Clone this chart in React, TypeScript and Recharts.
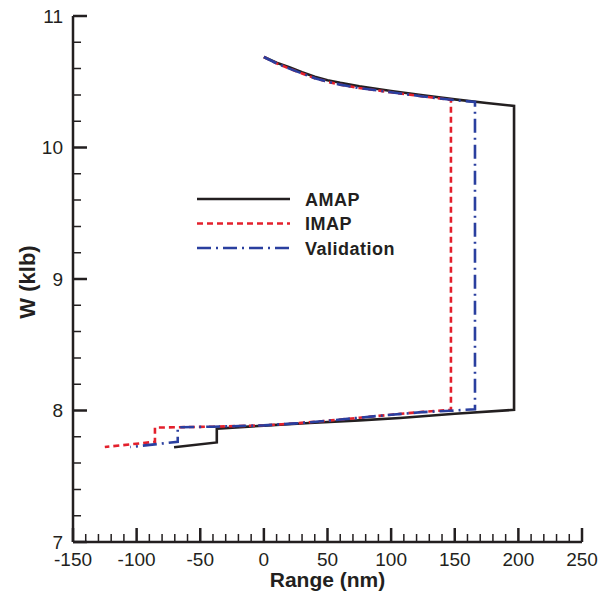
import React from 'react';
import { ComposedChart, Line, XAxis, YAxis, Legend } from 'recharts';

// ---- Data (Range in nm, W in klb) ----
const amapRange = [0, 10, 20, 30, 40, 50, 60, 75, 100, 125, 150, 175, 196.6, 196.6, 150, 107, 75, 36, 0, -37, -37, -70.6];
const amapWeight = [10.688, 10.645, 10.61, 10.572, 10.538, 10.512, 10.492, 10.466, 10.43, 10.397, 10.366, 10.338, 10.316, 8.005, 7.975, 7.943, 7.925, 7.905, 7.885, 7.862, 7.757, 7.72];

const imapRange = [0, 10, 20, 30, 40, 50, 60, 75, 100, 125, 147, 147, 125, 100, 75, 50, 25, 0, -40, -85.6, -85.6, -125];
const imapWeight = [10.688, 10.64, 10.6, 10.563, 10.527, 10.5, 10.478, 10.452, 10.42, 10.388, 10.362, 8.004, 7.99, 7.968, 7.945, 7.922, 7.902, 7.887, 7.877, 7.87, 7.762, 7.722];

const valRange = [0, 10, 20, 30, 40, 50, 60, 75, 100, 125, 150, 165.9, 165.9, 147, 125, 100, 75, 50, 25, 0, -40, -67.7, -67.7, -105];
const valWeight = [10.688, 10.64, 10.6, 10.563, 10.527, 10.5, 10.478, 10.452, 10.42, 10.388, 10.36, 10.346, 8.01, 7.998, 7.988, 7.968, 7.945, 7.922, 7.902, 7.887, 7.877, 7.872, 7.762, 7.722];

const xMajorTicks = [-150, -100, -50, 0, 50, 100, 150, 200, 250];
const xMinorTicks = [-140, -130, -120, -110, -90, -80, -70, -60, -40, -30, -20, -10, 10, 20, 30, 40, 60, 70, 80, 90, 110, 120, 130, 140, 160, 170, 180, 190, 210, 220, 230, 240];
const yMajorTicks = [7, 8, 9, 10, 11];
const yMinorTicks = [7.2, 7.4, 7.6, 7.8, 8.2, 8.4, 8.6, 8.8, 9.2, 9.4, 9.6, 9.8, 10.2, 10.4, 10.6, 10.8];

const seriesNames = ['AMAP', 'IMAP', 'Validation'];

const toPoints = (xs: number[], ys: number[]) => xs.map((x, i) => ({ x, y: ys[i] }));
const amapData = toPoints(amapRange, amapWeight);
const imapData = toPoints(imapRange, imapWeight);
const valData = toPoints(valRange, valWeight);

const X_MIN = -150;
const X_MAX = 250;
const Y_MIN = 7;
const Y_MAX = 11;
// inward tick lengths expressed in axis units (about 14px major, 8px minor)
const X_TICK_MAJOR = 0.107;
const X_TICK_MINOR = 0.061;
const Y_TICK_MAJOR = 11;
const Y_TICK_MINOR = 6.3;

// tick marks as broken two-point segments (null breaks the path)
const xTickSegments = (vals: number[], len: number) =>
  vals.flatMap((v) => [
    { x: v, y: Y_MIN as number | null },
    { x: v, y: (Y_MIN + len) as number | null },
    { x: v, y: null as number | null },
  ]);
const yTickSegments = (vals: number[], len: number) =>
  vals.flatMap((v) => [
    { x: X_MIN, y: v as number | null },
    { x: X_MIN + len, y: v as number | null },
    { x: X_MIN + len, y: null as number | null },
  ]);

const xMajorMarks = xTickSegments(xMajorTicks, X_TICK_MAJOR);
const xMinorMarks = xTickSegments(xMinorTicks, X_TICK_MINOR);
const yMajorMarks = yTickSegments(yMajorTicks, Y_TICK_MAJOR);
const yMinorMarks = yTickSegments(yMinorTicks, Y_TICK_MINOR);

const INK = '#231f20';
const RED = '#e3202c';
const BLUE = '#2a3f9f';
const FONT = '"Liberation Sans", Arial, Helvetica, sans-serif';

const styles = [
  { color: INK, dash: undefined as string | undefined },
  { color: RED, dash: '6 4' },
  { color: BLUE, dash: '14 5 2 5' },
];

const XLabel = (props: any) => {
  const { x, y, payload } = props;
  return (
    <text x={x} y={y + 24} textAnchor="middle" fontSize={19} fill={INK} fontFamily={FONT}>
      {payload.value}
    </text>
  );
};

const YLabel = (props: any) => {
  const { x, y, payload } = props;
  return (
    <text x={x - 10} y={y + 6.5} textAnchor="end" fontSize={19} fill={INK} fontFamily={FONT}>
      {payload.value}
    </text>
  );
};

const XTitle = (props: any) => {
  const vb = props.viewBox;
  return (
    <text x={vb.x + vb.width / 2} y={587} textAnchor="middle" fontSize={21} fontWeight="bold" fill={INK} fontFamily={FONT}>
      Range (nm)
    </text>
  );
};

const YTitle = (props: any) => {
  const vb = props.viewBox;
  const cy = vb.y + vb.height / 2 + 3;
  return (
    <text transform={`translate(35,${cy}) rotate(-90)`} textAnchor="middle" fontSize={22} fontWeight="bold" fill={INK} fontFamily={FONT}>
      W (klb)
    </text>
  );
};

const LegendBox = () => (
  <svg width={260} height={80} style={{ display: 'block' }}>
    {seriesNames.map((name, i) => {
      const cy = 14 + i * 24.5;
      return (
        <g key={name}>
          <line x1={7} x2={100} y1={cy} y2={cy} stroke={styles[i].color} strokeWidth={2.6} strokeDasharray={styles[i].dash} />
          <text x={115} y={cy + 6.5} fontSize={18} fontWeight="bold" letterSpacing={0.5} fill={INK} fontFamily={FONT}>
            {name}
          </text>
        </g>
      );
    })}
  </svg>
);

export default function App() {
  return (
    <div style={{ position: 'absolute', left: 0, top: 0, width: 603, height: 596, background: '#fff' }}>
      <ComposedChart width={603} height={596} margin={{ top: 16, right: 21, left: 0, bottom: 0 }}>
        <XAxis
          type="number"
          dataKey="x"
          domain={[X_MIN, X_MAX]}
          ticks={xMajorTicks}
          interval={0}
          height={54}
          tickSize={0}
          tickMargin={0}
          tickLine={false}
          axisLine={{ stroke: INK, strokeWidth: 2.5 }}
          tick={<XLabel />}
          label={<XTitle />}
        />
        <YAxis
          type="number"
          dataKey="y"
          domain={[Y_MIN, Y_MAX]}
          ticks={yMajorTicks}
          interval={0}
          width={73}
          tickSize={0}
          tickMargin={0}
          tickLine={false}
          axisLine={{ stroke: INK, strokeWidth: 2.5 }}
          tick={<YLabel />}
          label={<YTitle />}
        />
        <Legend
          layout="vertical"
          align="center"
          verticalAlign="middle"
          wrapperStyle={{ left: 190, top: 185, width: 260 }}
          content={<LegendBox />}
        />
        <Line data={xMajorMarks} dataKey="y" type="linear" stroke={INK} strokeWidth={2.5} dot={false} activeDot={false} legendType="none" isAnimationActive={false} />
        <Line data={xMinorMarks} dataKey="y" type="linear" stroke={INK} strokeWidth={1.5} dot={false} activeDot={false} legendType="none" isAnimationActive={false} />
        <Line data={yMajorMarks} dataKey="y" type="linear" stroke={INK} strokeWidth={2.5} dot={false} activeDot={false} legendType="none" isAnimationActive={false} />
        <Line data={yMinorMarks} dataKey="y" type="linear" stroke={INK} strokeWidth={1.5} dot={false} activeDot={false} legendType="none" isAnimationActive={false} />
        <Line name={seriesNames[0]} data={amapData} dataKey="y" type="linear" stroke={INK} strokeWidth={2.6} dot={false} isAnimationActive={false} />
        <Line name={seriesNames[1]} data={imapData} dataKey="y" type="linear" stroke={RED} strokeWidth={2.6} strokeDasharray="6 4" dot={false} isAnimationActive={false} />
        <Line name={seriesNames[2]} data={valData} dataKey="y" type="linear" stroke={BLUE} strokeWidth={2.6} strokeDasharray="14 5 2 5" dot={false} isAnimationActive={false} />
      </ComposedChart>
    </div>
  );
}
